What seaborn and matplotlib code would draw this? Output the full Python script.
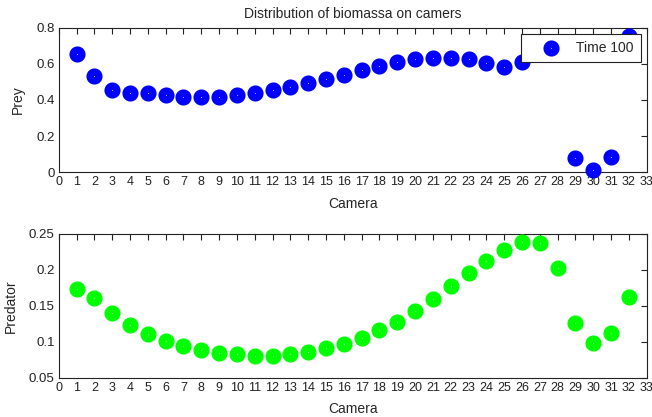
import numpy as np
import pandas as pd
import matplotlib
matplotlib.use("Agg")
import matplotlib.pyplot as plt
from matplotlib.ticker import FuncFormatter, MultipleLocator
import seaborn as sns

# Camera indices
camera = list(range(1, 33))

# Prey biomass per camera at time 100
prey = [0.655, 0.533, 0.455, 0.439, 0.440, 0.428, 0.417, 0.417,
        0.417, 0.425, 0.437, 0.455, 0.472, 0.494, 0.516, 0.539,
        0.566, 0.590, 0.608, 0.627, 0.632, 0.632, 0.627, 0.604,
        0.580, 0.608, 0.660, 0.700, 0.076, 0.015, 0.083, 0.755]

# Predator biomass per camera at time 100
predator = [0.174, 0.161, 0.140, 0.123, 0.111, 0.101, 0.094, 0.0886,
            0.084, 0.0826, 0.0806, 0.0806, 0.0826, 0.0858, 0.091, 0.0965,
            0.1057, 0.1164, 0.1275, 0.1433, 0.160, 0.178, 0.196, 0.2124,
            0.2277, 0.2393, 0.237, 0.2023, 0.1265, 0.0978, 0.1118, 0.1628]

x_ticks = list(range(0, 34))

df = pd.DataFrame({"Camera": camera, "Prey": prey, "Predator": predator})

sns.set_theme(style="white")
plt.rcParams["font.family"] = ["Liberation Sans", "DejaVu Sans"]
plt.rcParams["font.size"] = 10

fig = plt.figure(figsize=(6.52, 4.17), dpi=100)
ax1 = fig.add_axes([0.090, 0.587, 0.902, 0.347])
ax2 = fig.add_axes([0.090, 0.094, 0.902, 0.345])

fmt = FuncFormatter(lambda v, p: f"{v:g}")

# ring markers with a tiny hollow centre
ms, mew = 6.2, 5.4

sns.scatterplot(data=df, x="Camera", y="Prey", ax=ax1, marker="o",
                s=ms ** 2, facecolor="white", edgecolor="#0000ff",
                linewidth=mew, label="Time 100", zorder=3, clip_on=False)
sns.scatterplot(data=df, x="Camera", y="Predator", ax=ax2, marker="o",
                s=ms ** 2, facecolor="white", edgecolor="#00ff00",
                linewidth=mew, legend=False, zorder=3, clip_on=False)

ax1.set_ylim(0, 0.8)
ax1.yaxis.set_major_locator(MultipleLocator(0.2))
ax2.set_ylim(0.05, 0.25)
ax2.yaxis.set_major_locator(MultipleLocator(0.05))

for ax, ylab in ((ax1, "Prey"), (ax2, "Predator")):
    ax.set_xlim(0, 33)
    ax.set_xticks(x_ticks)
    ax.yaxis.set_major_formatter(fmt)
    ax.set_xlabel("Camera", fontsize=10, labelpad=6)
    ax.set_ylabel(ylab, fontsize=10, labelpad=8)
    ax.tick_params(direction="in", top=True, right=True, length=4,
                   width=0.8, color="#222222", labelsize=9.5, pad=3,
                   labelcolor="#222222")
    for sp in ax.spines.values():
        sp.set_visible(True)
        sp.set_color("#222222")
        sp.set_linewidth(0.8)
    for lab in ax.get_xticklabels():
        lab.set_fontsize(9)

ax1.set_title("Distribution of biomassa on camers", fontsize=10, pad=7)

leg = ax1.legend(loc="upper right", fancybox=False, framealpha=1,
                 edgecolor="#222222", fontsize=10, borderaxespad=0.45,
                 handlelength=3.4, handletextpad=0.1, borderpad=0.5,
                 markerscale=1.0)
leg.get_frame().set_linewidth(0.8)
leg.set_zorder(10)

fig.savefig("out.png", dpi=100)
